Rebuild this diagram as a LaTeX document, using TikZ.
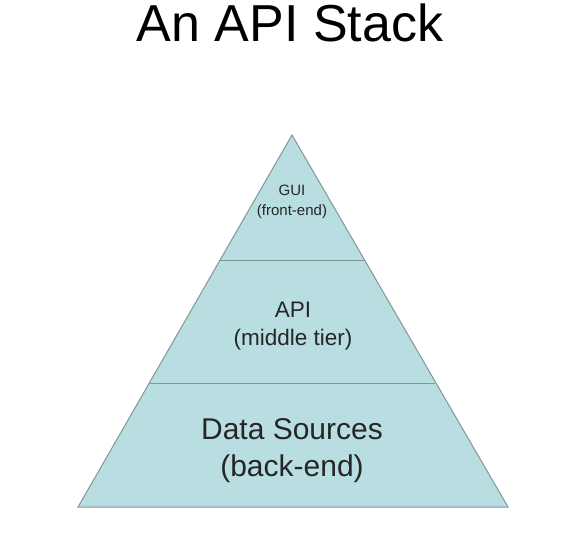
\documentclass[tikz,border=0pt]{standalone}
\usepackage{fontspec}
\setmainfont{Liberation Sans}
\definecolor{layerfill}{RGB}{184,222,226}
\definecolor{layeredge}{RGB}{130,150,152}

\begin{document}
\begin{tikzpicture}[x=1pt,y=-1pt,
    layertext/.style={align=center,text=black!85,inner sep=0pt}]
  \useasboundingbox (0,0) rectangle (573,536);
  \node[font=\fontsize{52}{56}\selectfont] (title) at (290,23) {An API Stack};
  % pyramid
  \fill[layerfill] (292,135) -- (508,507) -- (78,507) -- cycle;
  \draw[layeredge,line width=1pt] (292,135) -- (508,507) -- (78,507) -- cycle;
  \draw[layeredge,line width=1pt] (220,260) -- (364,260);
  \draw[layeredge,line width=1pt] (149,383) -- (435,383);
  % layer labels
  \node[layertext,font=\fontsize{15}{20}\selectfont] (gui) at (292,202) {GUI\\(front-end)};
  \node[layertext,font=\fontsize{22.5}{28}\selectfont] (api) at (293,326) {API\\(middle tier)};
  \node[layertext,font=\fontsize{30}{37}\selectfont] (data) at (292,451) {Data Sources\\(back-end)};
\end{tikzpicture}
\end{document}
